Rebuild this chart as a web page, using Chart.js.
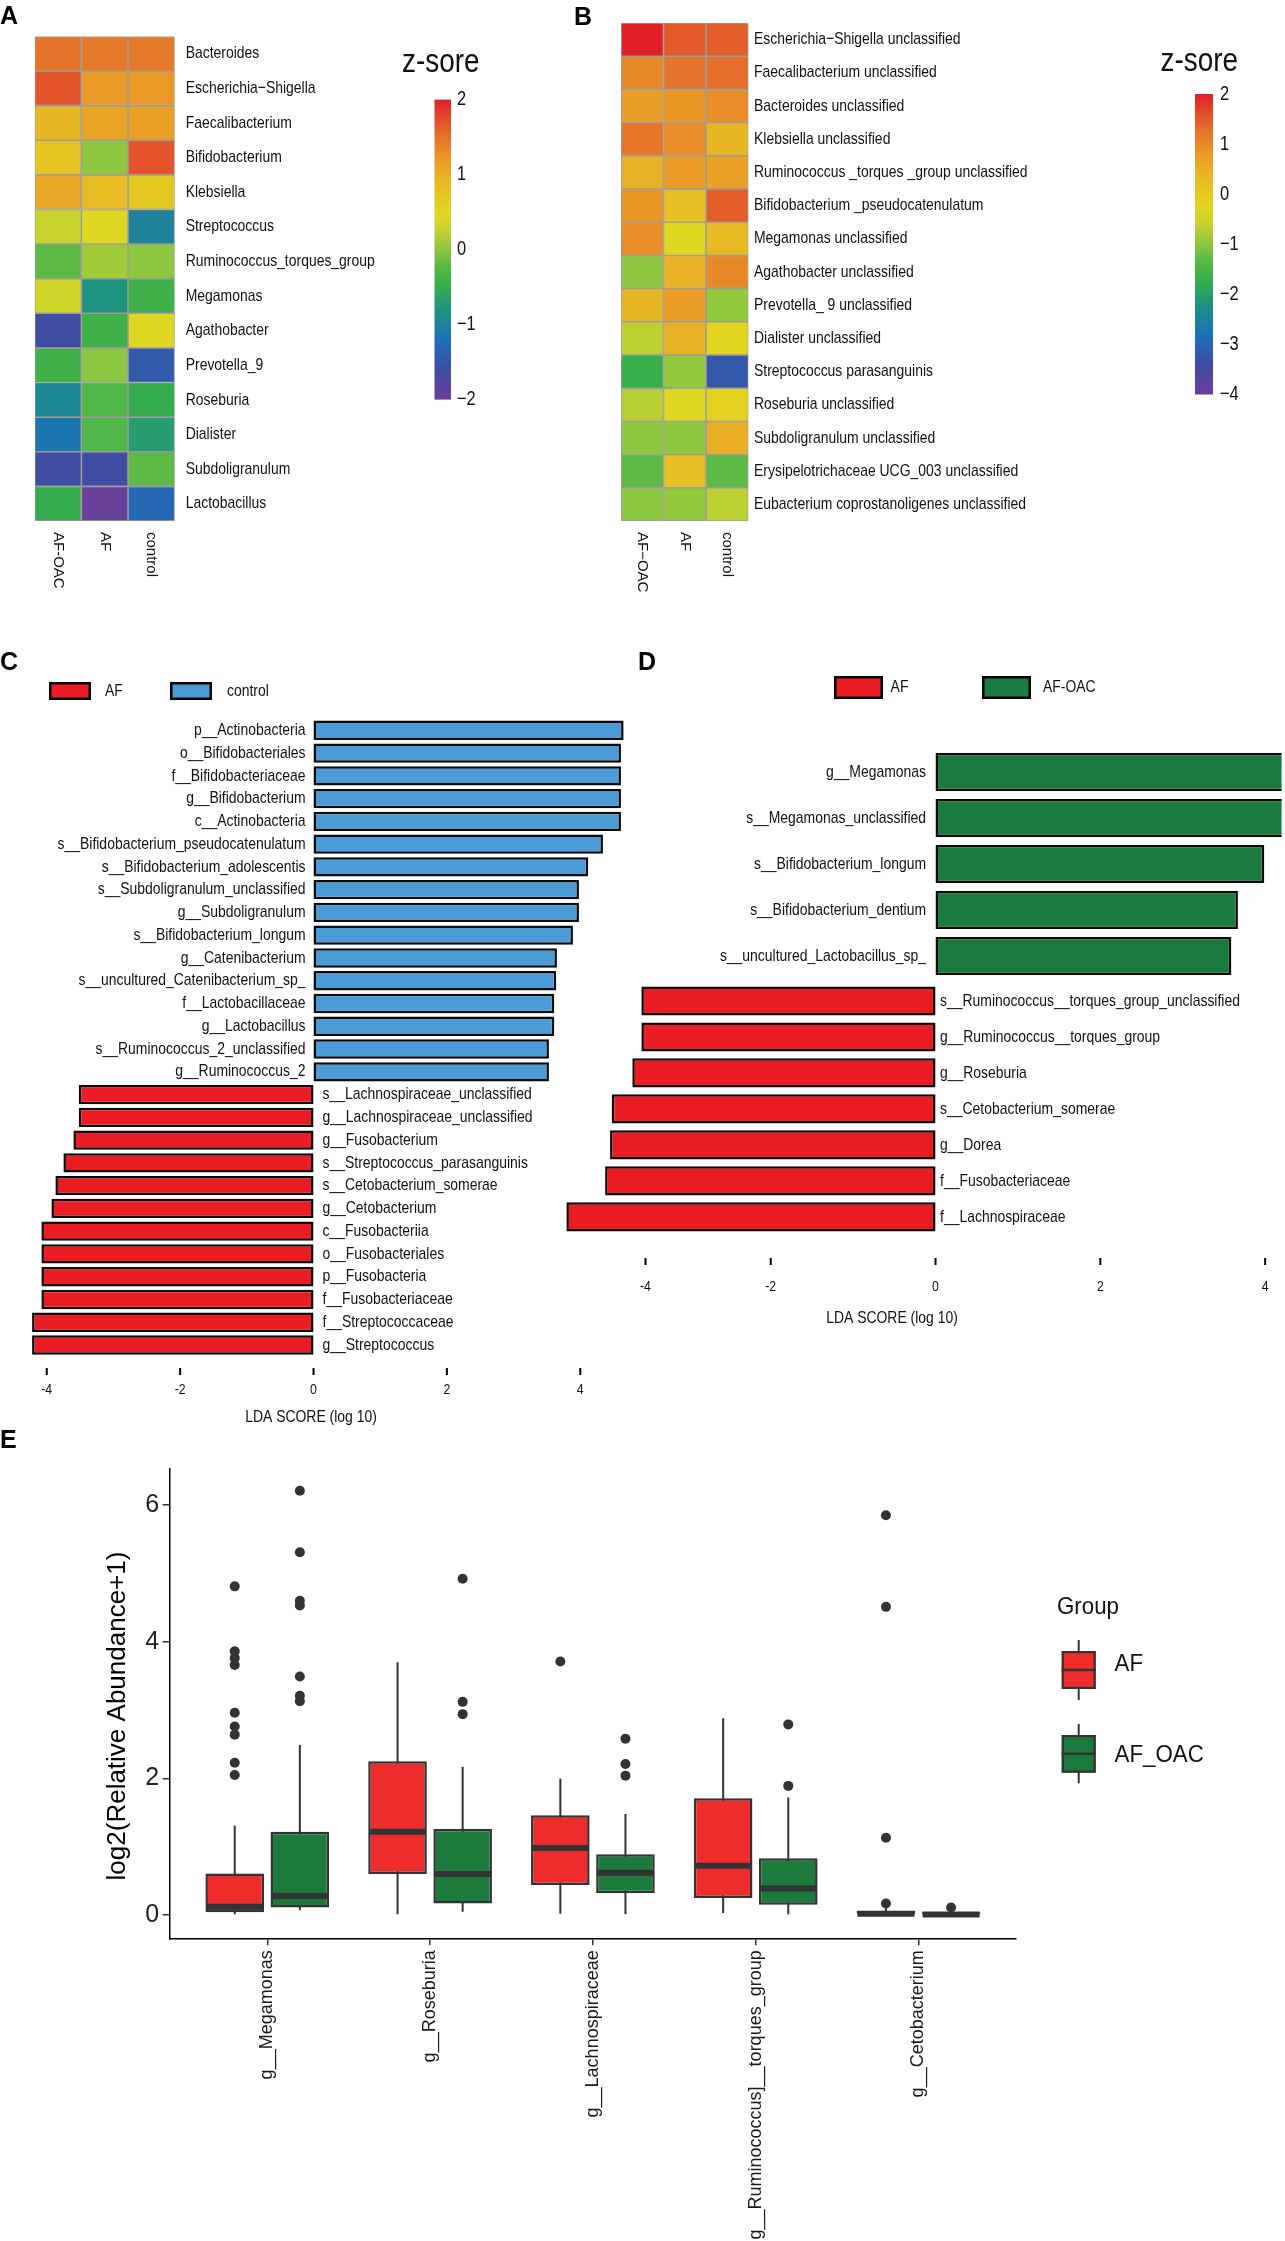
<!DOCTYPE html>
<html lang="en">
<head>
<meta charset="utf-8">
<title>AF gut microbiota</title>
<script src="https://cdn.jsdelivr.net/npm/chart.js@4.4.1/dist/chart.umd.min.js"></script>
<style>
  html, body { margin: 0; padding: 0; background: #fff; }
  body { position: relative; width: 1285px; height: 2241px; overflow: hidden; }
  canvas { position: absolute; }
</style>
</head>
<body>
<canvas id="heat-a" width="600" height="640" style="left:0px;top:0px"></canvas>
<canvas id="heat-b" width="725" height="640" style="left:560px;top:0px"></canvas>
<canvas id="lda-c" width="640" height="800" style="left:0px;top:640px"></canvas>
<canvas id="lda-d-oac" width="745" height="350" style="left:540px;top:640px"></canvas>
<canvas id="lda-d-af" width="745" height="370" style="left:540px;top:975px"></canvas>
<canvas id="box-e" width="1285" height="811" style="left:0px;top:1430px"></canvas>
<script>
// Panel A - genus level z-scores
const A_GROUPS = ['AF-OAC', 'AF', 'control'];
const A_TAXA = ['Bacteroides', 'Escherichia−Shigella', 'Faecalibacterium', 'Bifidobacterium', 'Klebsiella',
  'Streptococcus', 'Ruminococcus_torques_group', 'Megamonas', 'Agathobacter', 'Prevotella_9',
  'Roseburia', 'Dialister', 'Subdoligranulum', 'Lactobacillus'];
const A_Z_AFOAC = [1.5, 1.7, 0.9, 0.75, 1.05, 0.3, -0.2, 0.35, -1.6, -0.4, -0.95, -1.15, -1.6, -0.5];
const A_Z_AF = [1.45, 1.2, 1.1, 0.0, 0.85, 0.45, 0.1, -0.8, -0.4, 0.0, -0.3, -0.3, -1.6, -1.95];
const A_Z_CONTROL = [1.45, 1.2, 1.15, 1.7, 0.7, -1.0, 0.0, -0.4, 0.45, -1.45, -0.5, -0.7, -0.2, -1.3];
const A_KEY_TICKS = [2, 1, 0, -1, -2];

// Panel B - species level z-scores
const B_GROUPS = ['AF−OAC', 'AF', 'control'];
const B_TAXA = ['Escherichia−Shigella unclassified', 'Faecalibacterium unclassified', 'Bacteroides unclassified',
  'Klebsiella unclassified', 'Ruminococcus _torques _group unclassified', 'Bifidobacterium _pseudocatenulatum',
  'Megamonas unclassified', 'Agathobacter unclassified', 'Prevotella_ 9 unclassified', 'Dialister unclassified',
  'Streptococcus parasanguinis', 'Roseburia unclassified', 'Subdoligranulum unclassified',
  'Erysipelotrichaceae UCG_003 unclassified', 'Eubacterium coprostanoligenes unclassified'];
const B_Z_AFOAC = [2.0, 1.0, 0.75, 1.2, 0.45, 0.85, 0.95, -1.0, 0.35, -0.65, -1.7, -0.7, -1.0, -1.3, -1.0];
const B_Z_AF = [1.5, 1.25, 0.85, 0.95, 0.8, 0.2, -0.3, 0.45, 0.75, 0.45, -0.95, -0.3, -1.0, 0.2, -0.95];
const B_Z_CONTROL = [1.45, 1.3, 0.95, 0.35, 0.7, 1.45, 0.3, 1.0, -0.95, -0.2, -3.2, -0.15, 0.5, -1.3, -0.65];
const B_KEY_TICKS = [2, 1, 0, -1, -2, -3, -4];

// Panel C - LEfSe AF vs control
const C_GROUPS = ['AF', 'control'];
const C_TAXA = ['p__Actinobacteria', 'o__Bifidobacteriales', 'f__Bifidobacteriaceae', 'g__Bifidobacterium',
  'c__Actinobacteria', 's__Bifidobacterium_pseudocatenulatum', 's__Bifidobacterium_adolescentis',
  's__Subdoligranulum_unclassified', 'g__Subdoligranulum', 's__Bifidobacterium_longum', 'g__Catenibacterium',
  's__uncultured_Catenibacterium_sp_', 'f__Lactobacillaceae', 'g__Lactobacillus', 's__Ruminococcus_2_unclassified',
  'g__Ruminococcus_2', 's__Lachnospiraceae_unclassified', 'g__Lachnospiraceae_unclassified', 'g__Fusobacterium',
  's__Streptococcus_parasanguinis', 's__Cetobacterium_somerae', 'g__Cetobacterium', 'c__Fusobacteriia',
  'o__Fusobacteriales', 'p__Fusobacteria', 'f__Fusobacteriaceae', 'f__Streptococcaceae', 'g__Streptococcus'];
const C_LDA = [4.65, 4.61, 4.61, 4.61, 4.61, 4.34, 4.12, 3.98, 3.98, 3.89, 3.65, 3.64, 3.61, 3.61, 3.53, 3.53,
  -3.52, -3.52, -3.60, -3.75, -3.87, -3.93, -4.08, -4.08, -4.08, -4.08, -4.22, -4.22];
const C_TICKS = [-4, -2, 0, 2, 4];
const C_TICK_LABELS = ['-4', '-2', '0', '2', '4'];

// Panel D - LEfSe AF vs AF-OAC
const D_GROUPS = ['AF', 'AF-OAC'];
const D_OAC_TAXA = ['g__Megamonas', 's__Megamonas_unclassified', 's__Bifidobacterium_longum',
  's__Bifidobacterium_dentium', 's__uncultured_Lactobacillus_sp_'];
const D_OAC_LDA = [4.3, 4.28, 3.99, 3.67, 3.59];
const D_AF_TAXA = ['s__Ruminococcus__torques_group_unclassified', 'g__Ruminococcus__torques_group', 'g__Roseburia',
  's__Cetobacterium_somerae', 'g__Dorea', 'f__Fusobacteriaceae', 'f__Lachnospiraceae'];
const D_AF_LDA = [-3.57, -3.57, -3.68, -3.93, -3.95, -4.01, -4.48];
const D_TICKS = [-3.52, -2, 0, 2, 4];
const D_TICK_LABELS = ['-4', '-2', '0', '2', '4'];

// Panel E - boxplots of log2(relative abundance + 1)
const E_GROUPS = ['AF', 'AF_OAC'];
const E_TAXA = ['g__Megamonas', 'g__Roseburia', 'g__Lachnospiraceae', 'g__Ruminococcus]__torques_group', 'g__Cetobacterium'];
const AF_LOW = [0.0, 0.0, 0.02, 0.03, 0.0];
const AF_Q1 = [0.04, 0.60, 0.44, 0.25, 0.0];
const AF_MEDIAN = [0.12, 1.22, 0.98, 0.72, 0.02];
const AF_Q3 = [0.61, 2.25, 1.46, 1.71, 0.06];
const AF_HIGH = [1.31, 3.70, 2.0, 2.88, 0.12];
const AF_OUTLIERS = [[4.81, 3.86, 3.76, 3.66, 2.96, 2.76, 2.64, 2.23, 2.05], [], [3.71], [], [5.85, 4.51, 1.13, 0.17]];
const OAC_LOW = [0.07, 0.05, 0.0, 0.0, 0.0];
const OAC_Q1 = [0.11, 0.17, 0.32, 0.15, 0.0];
const OAC_MEDIAN = [0.28, 0.60, 0.62, 0.39, 0.01];
const OAC_Q3 = [1.22, 1.26, 0.89, 0.83, 0.04];
const OAC_HIGH = [2.49, 2.17, 1.48, 1.72, 0.08];
const OAC_OUTLIERS = [[6.21, 5.31, 4.6, 4.53, 3.49, 3.21, 3.13], [4.92, 3.12, 2.94], [2.58, 2.21, 2.04], [2.79, 1.89], [0.11]];
const E_TICKS = [0, 2, 4, 6];

// Colours and fonts
const RED_LDA = '#ec1c24';
const BLUE_LDA = '#4a9bd6';
const GREEN_LDA = '#1b7a3e';
const RED_BOX = '#ee2c2c';
const GREEN_BOX = '#1b7a3c';
const FONT = '"Liberation Sans", Arial, Helvetica, sans-serif';
const NARROW = 0.82;   // Arial Narrow is ~82% of Arial width

// heatmap colour ramp, position 0 = lowest z, 1 = highest z
const RAMP = [
  [0.00, '#6b3e98'], [0.10, '#3f4da3'], [0.20, '#1d70b8'], [0.30, '#1f9480'],
  [0.38, '#35ae4a'], [0.45, '#5dba46'], [0.50, '#8dc63f'], [0.56, '#bfd132'],
  [0.62, '#e2d81f'], [0.72, '#e8ba24'], [0.80, '#ea9a27'], [0.88, '#e5702a'],
  [0.94, '#e34a2a'], [1.00, '#e21f26']
];

function hexToRgb(h) {
  const n = parseInt(h.slice(1), 16);
  return [n >> 16, (n >> 8) & 255, n & 255];
}

function rampColor(f) {
  f = Math.max(0, Math.min(1, f));
  for (let i = 1; i < RAMP.length; i++) {
    if (f <= RAMP[i][0]) {
      const a = hexToRgb(RAMP[i - 1][1]);
      const b = hexToRgb(RAMP[i][1]);
      const t = (f - RAMP[i - 1][0]) / (RAMP[i][0] - RAMP[i - 1][0]);
      return 'rgb(' + a.map((v, k) => Math.round(v + (b[k] - v) * t)).join(',') + ')';
    }
  }
  return RAMP[RAMP.length - 1][1];
}

function minusSign(v) {
  return v < 0 ? '−' + Math.abs(v) : String(v);
}

// text helper: narrow squeezes Liberation Sans to Arial Narrow proportions,
// squeeze gives any other horizontal factor
function drawText(ctx, text, x, y, opt) {
  ctx.save();
  ctx.font = (opt.bold ? 'bold ' : '') + opt.size + 'px ' + FONT;
  ctx.fillStyle = opt.color || '#111';
  ctx.textAlign = opt.align || 'left';
  ctx.textBaseline = opt.baseline || 'middle';
  ctx.translate(x, y);
  if (opt.rotate) ctx.rotate(opt.rotate);
  const sx = opt.narrow ? NARROW : (opt.squeeze || 1);
  if (sx !== 1) ctx.scale(sx, 1);
  ctx.fillText(text, 0, 0);
  ctx.restore();
}

function panelLetter(ctx, letter, x, y) {
  drawText(ctx, letter, x, y, { size: 25, bold: true, baseline: 'alphabetic', color: '#000' });
}

const noInteraction = {
  responsive: false,
  animation: false,
  events: []
};

// ---------- Heatmaps (A, B) as stacked horizontal bars, one segment per cell ----------
function heatmapDecor(o) {
  return {
    id: 'heatmapDecor',
    afterDraw(chart) {
      const ctx = chart.ctx;
      const area = chart.chartArea;
      const xS = chart.scales.x;
      const yS = chart.scales.y;

      chart.data.labels.forEach((name, i) => {
        drawText(ctx, name, area.right + o.labelGap, yS.getPixelForValue(i), { size: 17, narrow: true });
      });
      chart.data.datasets.forEach((ds, j) => {
        drawText(ctx, ds.label, xS.getPixelForValue(j + 0.5), area.bottom + 11,
          { size: 15, rotate: Math.PI / 2 });
      });

      // colour key
      const cb = o.key;
      const grad = ctx.createLinearGradient(0, cb.top, 0, cb.top + cb.height);
      RAMP.forEach(([f, c]) => grad.addColorStop(1 - f, c));
      ctx.fillStyle = grad;
      ctx.fillRect(cb.left, cb.top, cb.width, cb.height);
      o.ticks.forEach(v => {
        const y = cb.top + (o.max - v) / (o.max - o.min) * cb.height;
        drawText(ctx, minusSign(v), cb.labelX, y, { size: 20, narrow: true });
      });
      drawText(ctx, 'z-sore', o.title.x, o.title.y, { size: 34, narrow: true, baseline: 'alphabetic' });
      panelLetter(ctx, o.letter.text, o.letter.x, o.letter.y);
    }
  };
}

function makeHeatmap(id, taxa, groups, zCols, zMin, zMax, o) {
  const datasets = groups.map((g, j) => ({
    label: g,
    data: taxa.map(() => 1),
    backgroundColor: zCols[j].map(z => rampColor((z - zMin) / (zMax - zMin))),
    borderColor: '#9d9d9d',
    borderWidth: 1.1,
    borderSkipped: false,
    barPercentage: 1,
    categoryPercentage: 1
  }));
  return new Chart(document.getElementById(id), {
    type: 'bar',
    data: { labels: taxa, datasets: datasets },
    options: Object.assign({}, noInteraction, {
      indexAxis: 'y',
      layout: { padding: o.padding },
      scales: {
        x: { stacked: true, min: 0, max: groups.length, display: false },
        y: { stacked: true, display: false }
      },
      plugins: { legend: { display: false }, tooltip: { enabled: false } }
    }),
    plugins: [heatmapDecor(Object.assign({ min: zMin, max: zMax }, o))]
  });
}

makeHeatmap('heat-a', A_TAXA, A_GROUPS, [A_Z_AFOAC, A_Z_AF, A_Z_CONTROL], -2, 2, {
  padding: { left: 34.7, right: 425.3, top: 36.4, bottom: 119 },
  labelGap: 11,
  ticks: A_KEY_TICKS,
  key: { left: 434.5, top: 99.6, width: 16.5, height: 300, labelX: 457 },
  title: { x: 402, y: 72 },
  letter: { text: 'A', x: 0, y: 24 }
});

makeHeatmap('heat-b', B_TAXA, B_GROUPS, [B_Z_AFOAC, B_Z_AF, B_Z_CONTROL], -4, 2, {
  padding: { left: 61, right: 536.5, top: 23, bottom: 119 },
  labelGap: 5.5,
  ticks: B_KEY_TICKS,
  key: { left: 635, top: 94, width: 18, height: 300.5, labelX: 660 },
  title: { x: 600.5, y: 71 },
  letter: { text: 'B', x: 14, y: 24.5 }
});

// ---------- LDA bar charts (C, D) ----------
function ldaDecor(cfg) {
  return {
    id: 'ldaDecor',
    afterDraw(chart) {
      const ctx = chart.ctx;
      const xS = chart.scales.x;
      const yS = chart.scales.y;
      const x0 = xS.getPixelForValue(0);
      const scores = chart.data.datasets[0].data;

      chart.data.labels.forEach((name, i) => {
        const y = yS.getPixelForValue(i);
        if (scores[i] >= 0) {
          drawText(ctx, name, x0 - cfg.gapPos, y, { size: 17, narrow: true, align: 'right' });
        } else {
          drawText(ctx, name, x0 + cfg.gapNeg, y, { size: 17, narrow: true });
        }
      });

      if (cfg.axis) {
        const a = cfg.axis;
        ctx.save();
        ctx.strokeStyle = '#000';
        ctx.lineWidth = 2;
        a.ticks.forEach((v, k) => {
          const px = xS.getPixelForValue(v);
          ctx.beginPath();
          ctx.moveTo(px, a.tickTop);
          ctx.lineTo(px, a.tickTop + 7);
          ctx.stroke();
          drawText(ctx, a.labels[k], px, a.labelY, { size: 15, narrow: true, align: 'center' });
        });
        ctx.restore();
        drawText(ctx, 'LDA SCORE (log 10)', a.titleX, a.titleY, { size: 17, narrow: true, align: 'center' });
      }

      if (cfg.legend) {
        const lg = cfg.legend;
        lg.items.forEach(it => {
          ctx.save();
          ctx.fillStyle = it.color;
          ctx.fillRect(it.x, lg.top, it.w, lg.h);
          ctx.strokeStyle = '#000';
          ctx.lineWidth = 2.5;
          ctx.strokeRect(it.x + 1.25, lg.top + 1.25, it.w - 2.5, lg.h - 2.5);
          ctx.restore();
          drawText(ctx, it.text, it.textX, lg.top + lg.h / 2, { size: 17, narrow: true });
        });
      }

      if (cfg.letter) panelLetter(ctx, cfg.letter.text, cfg.letter.x, cfg.letter.y);
    }
  };
}

function makeLda(id, taxa, scores, cfg) {
  return new Chart(document.getElementById(id), {
    type: 'bar',
    data: {
      labels: taxa,
      datasets: [{
        data: scores,
        backgroundColor: scores.map(v => (v >= 0 ? cfg.posColor : cfg.negColor)),
        borderColor: '#0a0a0a',
        borderWidth: 2.5,
        borderSkipped: false,
        barPercentage: cfg.barPct,
        categoryPercentage: 1
      }]
    },
    options: Object.assign({}, noInteraction, {
      indexAxis: 'y',
      layout: { padding: cfg.padding },
      scales: {
        x: { type: 'linear', min: cfg.min, max: cfg.max, display: false },
        y: { display: false }
      },
      plugins: { legend: { display: false }, tooltip: { enabled: false } }
    }),
    plugins: [ldaDecor(cfg)]
  });
}

makeLda('lda-c', C_TAXA, C_LDA, {
  posColor: BLUE_LDA, negColor: RED_LDA, barPct: 0.85,
  min: -4.35, max: 4.75,
  padding: { left: 23.4, right: 9.7, top: 78.9, bottom: 83.6 },
  gapPos: 8, gapNeg: 9,
  axis: { ticks: C_TICKS, labels: C_TICK_LABELS, tickTop: 728, labelY: 750, titleX: 311, titleY: 777 },
  legend: {
    top: 42, h: 18,
    items: [
      { text: C_GROUPS[0], color: RED_LDA, x: 49, w: 42, textX: 105 },
      { text: C_GROUPS[1], color: BLUE_LDA, x: 170, w: 42, textX: 227 }
    ]
  },
  letter: { text: 'C', x: 0, y: 29.6 }
});

makeLda('lda-d-oac', D_OAC_TAXA, D_OAC_LDA, {
  posColor: GREEN_LDA, negColor: RED_LDA, barPct: 0.83,
  min: -4.6, max: 4.2,
  padding: { left: 16.5, right: 3.4, top: 109, bottom: 11 },
  gapPos: 9.5, gapNeg: 4.5,
  legend: {
    top: 36, h: 23,
    items: [
      { text: D_GROUPS[0], color: RED_LDA, x: 294, w: 49, textX: 350.6 },
      { text: D_GROUPS[1], color: GREEN_LDA, x: 442, w: 49, textX: 503 }
    ]
  },
  letter: { text: 'D', x: 98, y: 29.6 }
});

makeLda('lda-d-af', D_AF_TAXA, D_AF_LDA, {
  posColor: GREEN_LDA, negColor: RED_LDA, barPct: 0.81,
  min: -4.6, max: 4.2,
  padding: { left: 16.5, right: 3.4, top: 8, bottom: 110.2 },
  gapPos: 9.5, gapNeg: 4.5,
  axis: { ticks: D_TICKS, labels: D_TICK_LABELS, tickTop: 283, labelY: 312, titleX: 352, titleY: 343 }
});

// ---------- Boxplots (E) ----------
const E_CAT_PCT = 0.8;
const E_BOX_PCT = 0.9;
const E_SERIES = [
  { name: E_GROUPS[0], color: RED_BOX, low: AF_LOW, q1: AF_Q1, median: AF_MEDIAN, q3: AF_Q3, high: AF_HIGH, outliers: AF_OUTLIERS },
  { name: E_GROUPS[1], color: GREEN_BOX, low: OAC_LOW, q1: OAC_Q1, median: OAC_MEDIAN, q3: OAC_Q3, high: OAC_HIGH, outliers: OAC_OUTLIERS }
];

// centre of group g's dodge slot around category i
function slotX(i, g) {
  return i - E_CAT_PCT / 2 + (g + 0.5) * E_CAT_PCT / E_SERIES.length;
}

const eDatasets = [];
E_SERIES.forEach(s => {
  eDatasets.push({
    type: 'bar', label: s.name, stack: s.name, order: 2,
    data: E_TAXA.map((t, i) => ({ x: i, y: [s.q1[i], s.q3[i]] })),
    backgroundColor: s.color, borderColor: '#333333', borderWidth: 2.5, borderSkipped: false,
    categoryPercentage: E_CAT_PCT, barPercentage: E_BOX_PCT
  });
});
E_SERIES.forEach(s => {
  eDatasets.push({
    type: 'bar', label: s.name + ' whisker', stack: s.name, order: 3,
    data: E_TAXA.map((t, i) => ({ x: i, y: [s.low[i], s.high[i]] })),
    backgroundColor: '#333333', borderWidth: 0,
    categoryPercentage: E_CAT_PCT, barPercentage: E_BOX_PCT, maxBarThickness: 2
  });
});
E_SERIES.forEach((s, g) => {
  eDatasets.push({
    type: 'scatter', label: s.name + ' median', order: 1,
    data: E_TAXA.map((t, i) => ({ x: slotX(i, g), y: s.median[i] })),
    pointStyle: 'line', pointRadius: 28.5, pointHoverRadius: 28.5,
    pointBorderWidth: 6, pointBorderColor: '#333333'
  });
  eDatasets.push({
    type: 'scatter', label: s.name + ' outliers', order: 0,
    data: s.outliers.flatMap((vals, i) => vals.map(v => ({ x: slotX(i, g), y: v }))),
    pointRadius: 5, pointHoverRadius: 5,
    pointBackgroundColor: '#333333', pointBorderWidth: 0
  });
});

const eDecor = {
  id: 'eDecor',
  afterDraw(chart) {
    const ctx = chart.ctx;
    panelLetter(ctx, 'E', 0, 18);
    drawText(ctx, 'log2(Relative Abundance+1)', 118, 286,
      { size: 26, align: 'center', rotate: -Math.PI / 2, color: '#000' });
    drawText(ctx, 'Group', 1057, 184, { size: 24, squeeze: 0.93, baseline: 'alphabetic' });
    const keys = [
      { top: 221, bottom: 259, wTop: 210, wBottom: 270, textY: 234 },
      { top: 305, bottom: 342.7, wTop: 294, wBottom: 353.3, textY: 325.5 }
    ];
    E_SERIES.forEach((s, g) => {
      const k = keys[g];
      const left = 1061.7, right = 1095.7, cx = (left + right) / 2;
      ctx.save();
      ctx.strokeStyle = '#333333';
      ctx.lineWidth = 2;
      ctx.beginPath();
      ctx.moveTo(cx, k.wTop);
      ctx.lineTo(cx, k.wBottom);
      ctx.stroke();
      ctx.fillStyle = s.color;
      ctx.fillRect(left, k.top, right - left, k.bottom - k.top);
      ctx.lineWidth = 2.2;
      ctx.strokeRect(left + 1.1, k.top + 1.1, right - left - 2.2, k.bottom - k.top - 2.2);
      ctx.lineWidth = 2.5;
      ctx.beginPath();
      ctx.moveTo(left, (k.top + k.bottom) / 2);
      ctx.lineTo(right, (k.top + k.bottom) / 2);
      ctx.stroke();
      ctx.restore();
      drawText(ctx, s.name, 1114.5, k.textY, { size: 24, squeeze: 0.93 });
    });
  }
};

new Chart(document.getElementById('box-e'), {
  type: 'bar',
  data: { datasets: eDatasets },
  options: Object.assign({}, noInteraction, {
    layout: { padding: { left: 0, top: 38.8, right: 268.8, bottom: 0 } },
    scales: {
      x: {
        type: 'linear', min: -0.6, max: E_TAXA.length - 0.4, offset: false,
        afterBuildTicks: scale => { scale.ticks = E_TAXA.map((t, i) => ({ value: i })); },
        afterFit: scale => { scale.height = 302.7; },
        ticks: {
          autoSkip: false, minRotation: 90, maxRotation: 90, padding: 5,
          color: '#1a1a1a', font: { family: FONT, size: 18 },
          callback: value => E_TAXA[value]
        },
        grid: { display: true, drawOnChartArea: false, drawTicks: true, tickLength: 7, color: '#333333', lineWidth: 1.5, offset: false },
        border: { display: true, color: '#000', width: 1.5 }
      },
      y: {
        type: 'linear', min: -0.34, max: 6.53, stacked: false,
        afterBuildTicks: scale => { scale.ticks = E_TICKS.map(v => ({ value: v })); },
        afterFit: scale => { scale.width = 169.6; },
        ticks: { padding: 3.5, color: '#222222', font: { family: FONT, size: 25 } },
        grid: { display: true, drawOnChartArea: false, drawTicks: true, tickLength: 7, color: '#333333', lineWidth: 1.5 },
        border: { display: true, color: '#000', width: 1.5 }
      }
    },
    plugins: { legend: { display: false }, tooltip: { enabled: false } }
  }),
  plugins: [eDecor]
});
</script>
</body>
</html>
